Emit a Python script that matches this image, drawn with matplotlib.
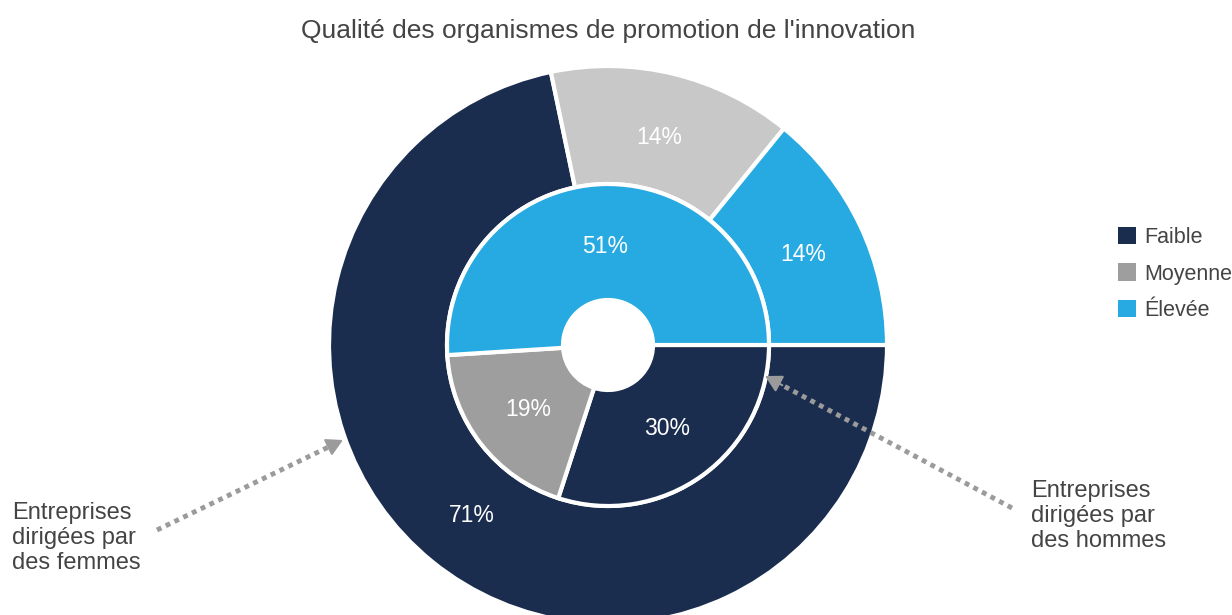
import matplotlib
matplotlib.use("Agg")
import matplotlib.pyplot as plt
from matplotlib.patches import Patch

plt.rcParams['font.family'] = ['Liberation Sans', 'DejaVu Sans']

title = "Qualité des organismes de promotion de l'innovation"
categories = ["Faible", "Moyenne", "Élevée"]
femmes = [71, 14, 14]   # outer ring
hommes = [30, 19, 51]   # inner ring
outer_colors = ["#1b2d4f", "#c8c8c8", "#27aae1"]
inner_colors = ["#1b2d4f", "#9e9e9e", "#27aae1"]
legend_colors = ["#1b2d4f", "#9e9e9e", "#27aae1"]
label_femmes = "Entreprises\ndirigées par\ndes femmes"
label_hommes = "Entreprises\ndirigées par\ndes hommes"

W, H = 1232, 615
fig = plt.figure(figsize=(W / 100, H / 100), dpi=100)
ax = fig.add_axes([0, 0, 1, 1])

cx, cy = 608, H - 345
R_out, R_mid, R_in = 279, 161, 45
txt_col = "#444444"

def make_fmt(vals):
    it = iter(vals)
    return lambda p: f"{next(it)}%"

pct_props = dict(color="white", fontsize=16.5, verticalalignment="center_baseline")
ax.pie(femmes, radius=R_out, center=(cx, cy), startangle=0, counterclock=False,
       colors=outer_colors, autopct=make_fmt(femmes), pctdistance=0.775,
       textprops=pct_props,
       wedgeprops=dict(width=R_out - R_mid, edgecolor="white", linewidth=3))
ax.pie(hommes, radius=R_mid, center=(cx, cy), startangle=0, counterclock=False,
       colors=inner_colors, autopct=make_fmt(hommes), pctdistance=0.625,
       textprops=pct_props,
       wedgeprops=dict(width=R_mid - R_in, edgecolor="white", linewidth=3))

ax.set_xlim(0, W)
ax.set_ylim(0, H)
ax.set_aspect('auto')
ax.axis('off')

ax.text(608, H - 31, title, ha='center', va='center', fontsize=19, color=txt_col)

# annotation arrows
arrow_col = "#9b9b9b"
for (x0, y0), (x1, y1) in [((157, 530), (343, 440)), ((1012, 508), (765, 376))]:
    Y0, Y1 = H - y0, H - y1
    fx = x0 + (x1 - x0) * 0.93
    fy = Y0 + (Y1 - Y0) * 0.93
    ax.plot([x0, fx], [Y0, fy], color=arrow_col, linewidth=3.5,
            linestyle=(0, (1, 1)), solid_capstyle='butt', dash_capstyle='butt')
    ax.annotate("", xy=(x1, Y1), xytext=(fx, fy),
                arrowprops=dict(arrowstyle="-|>,head_length=1.0,head_width=0.55",
                                color=arrow_col, lw=1.5, shrinkA=0, shrinkB=0))

ax.text(12, H - 538, label_femmes, ha='left', va='center', fontsize=17,
        color=txt_col, linespacing=1.19)
ax.text(1031, H - 516, label_hommes, ha='left', va='center', fontsize=17,
        color=txt_col, linespacing=1.19)

handles = [Patch(facecolor=c, edgecolor='none') for c in legend_colors]
leg = ax.legend(handles, categories, loc='center left',
                bbox_to_anchor=(1118 / W, 1 - 274 / H), frameon=False,
                fontsize=15.5, handlelength=0.85, handleheight=0.85,
                handletextpad=0.35, labelspacing=0.72, borderaxespad=0,
                borderpad=0)
for t in leg.get_texts():
    t.set_color(txt_col)

fig.savefig("out.png", dpi=100)
